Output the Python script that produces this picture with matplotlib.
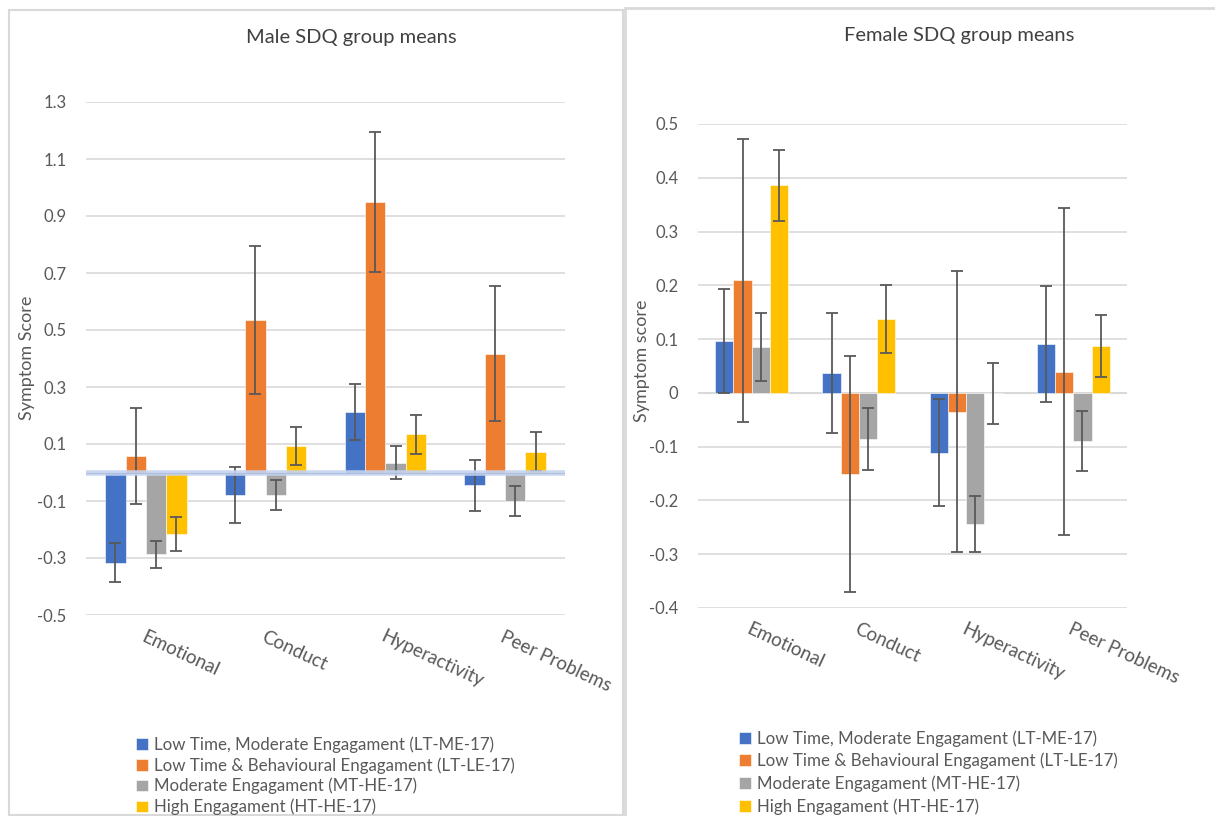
"""
Male / female SDQ group means, grouped bars with error bars.
Output: out.png
"""

import matplotlib
matplotlib.use("Agg")
import matplotlib.pyplot as plt
import numpy as np
from matplotlib.patches import Rectangle

plt.rcParams["font.family"] = ["Lato", "DejaVu Sans"]

categories = ["Emotional", "Conduct", "Hyperactivity", "Peer Problems"]
groups = [
    "Low Time, Moderate Engagament (LT-ME-17)",
    "Low Time & Behavioural Engagament (LT-LE-17)",
    "Moderate Engagament (MT-HE-17)",
    "High Engagament (HT-HE-17)",
]
colors = ["#4472c4", "#ed7d31", "#a5a5a5", "#ffc000"]

# Male means and error half-widths (one list per group, per category)
male_ltme = [-0.316, -0.080, 0.212, -0.045]
male_ltle = [0.058, 0.535, 0.949, 0.417]
male_mthe = [-0.287, -0.080, 0.034, -0.100]
male_hthe = [-0.216, 0.093, 0.134, 0.073]
male_ltme_err = [0.067, 0.098, 0.098, 0.089]
male_ltle_err = [0.168, 0.260, 0.244, 0.236]
male_mthe_err = [0.047, 0.052, 0.058, 0.053]
male_hthe_err = [0.059, 0.068, 0.069, 0.069]

# Female means and error half-widths
female_ltme = [0.097, 0.037, -0.111, 0.091]
female_ltle = [0.209, -0.151, -0.035, 0.039]
female_mthe = [0.086, -0.086, -0.244, -0.090]
female_hthe = [0.386, 0.137, -0.001, 0.087]
female_ltme_err = [0.097, 0.112, 0.100, 0.108]
female_ltle_err = [0.263, 0.220, 0.261, 0.304]
female_mthe_err = [0.063, 0.057, 0.052, 0.056]
female_hthe_err = [0.066, 0.063, 0.057, 0.058]

male_ticks = [-0.5, -0.3, -0.1, 0.1, 0.3, 0.5, 0.7, 0.9, 1.1, 1.3]
female_ticks = [-0.4, -0.3, -0.2, -0.1, 0, 0.1, 0.2, 0.3, 0.4, 0.5]

TXT = "#595959"
GRID = "#d9d9d9"
W, H = 1215, 816


def draw_panel(ax, means, errs, ticks):
    x = np.arange(len(categories))
    w = 0.17
    for i, (vals, err) in enumerate(zip(means, errs)):
        pos = x + (i - 1.5) * w
        ax.bar(pos, vals, w, color=colors[i], label=groups[i], zorder=3,
               edgecolor="white", linewidth=0.4)
        ax.errorbar(pos, vals, yerr=err, fmt="none", ecolor="#595959",
                    elinewidth=1.3, capsize=4, capthick=1.3, zorder=4)
    ax.set_xlim(-0.5, len(categories) - 0.5)
    ax.set_ylim(ticks[0], ticks[-1])
    ax.set_yticks(ticks)
    ax.set_yticklabels([f"{t:g}" for t in ticks], color=TXT, fontsize=12)
    ax.yaxis.grid(True, color=GRID, lw=1.2, zorder=0)
    ax.set_axisbelow(True)
    for s in ax.spines.values():
        s.set_visible(False)
    ax.tick_params(length=0, pad=14)
    ax.set_xticks([])
    for xi, c in zip(x, categories):
        ax.text(xi, ticks[0] - (ticks[-1] - ticks[0]) * 0.025, c,
                rotation=-25, rotation_mode="anchor", ha="left", va="top",
                fontsize=13.5, color=TXT)


fig = plt.figure(figsize=(12.15, 8.16), dpi=100)

# panel frames
fig.patches.append(Rectangle((9 / W, 1 / H), 614 / W, 805 / H,
                             transform=fig.transFigure, fill=False,
                             edgecolor=GRID, lw=1.5))
fig.patches.append(Rectangle((625 / W, -0.05), 0.6, 1.04,
                             transform=fig.transFigure, fill=False,
                             edgecolor=GRID, lw=2))

ax1 = fig.add_axes([86 / W, 201 / H, 479 / W, 513 / H])
draw_panel(ax1,
           [male_ltme, male_ltle, male_mthe, male_hthe],
           [male_ltme_err, male_ltle_err, male_mthe_err, male_hthe_err],
           male_ticks)
ax1.axhline(0, color="#c6d4ee", lw=4, zorder=5, alpha=0.9)
ax1.axhline(0, color="#9fb6e0", lw=0.8, zorder=5, alpha=0.7)

ax2 = fig.add_axes([698 / W, 208 / H, 429 / W, 484 / H])
draw_panel(ax2,
           [female_ltme, female_ltle, female_mthe, female_hthe],
           [female_ltme_err, female_ltle_err, female_mthe_err, female_hthe_err],
           female_ticks)
ax2.axhline(0, color=GRID, lw=1.5, zorder=2)

fig.text(351 / W, 1 - 37 / H, "Male SDQ group means", ha="center",
         va="center", fontsize=14.5, color="#404040")
fig.text(959 / W, 1 - 35 / H, "Female SDQ group means", ha="center",
         va="center", fontsize=14.5, color="#404040")

fig.text(27 / W, 1 - 358 / H, "Symptom Score", rotation=90,
         ha="center", va="center", fontsize=13, color=TXT)
fig.text(642 / W, 1 - 361 / H, "Symptom score", rotation=90,
         ha="center", va="center", fontsize=13, color=TXT)

h, l = ax1.get_legend_handles_labels()
fig.legend(h, l, loc="upper left", bbox_to_anchor=(136 / W, 1 - 736 / H),
           frameon=False, fontsize=12.2, labelcolor=TXT, handlelength=0.7,
           handleheight=0.7, handletextpad=0.35, labelspacing=0.26,
           borderaxespad=0, borderpad=0)
fig.legend(h, l, loc="upper left", bbox_to_anchor=(739 / W, 1 - 730 / H),
           frameon=False, fontsize=12.2, labelcolor=TXT, handlelength=0.7,
           handleheight=0.7, handletextpad=0.35, labelspacing=0.36,
           borderaxespad=0, borderpad=0)

fig.savefig("out.png", dpi=100, facecolor="white")
